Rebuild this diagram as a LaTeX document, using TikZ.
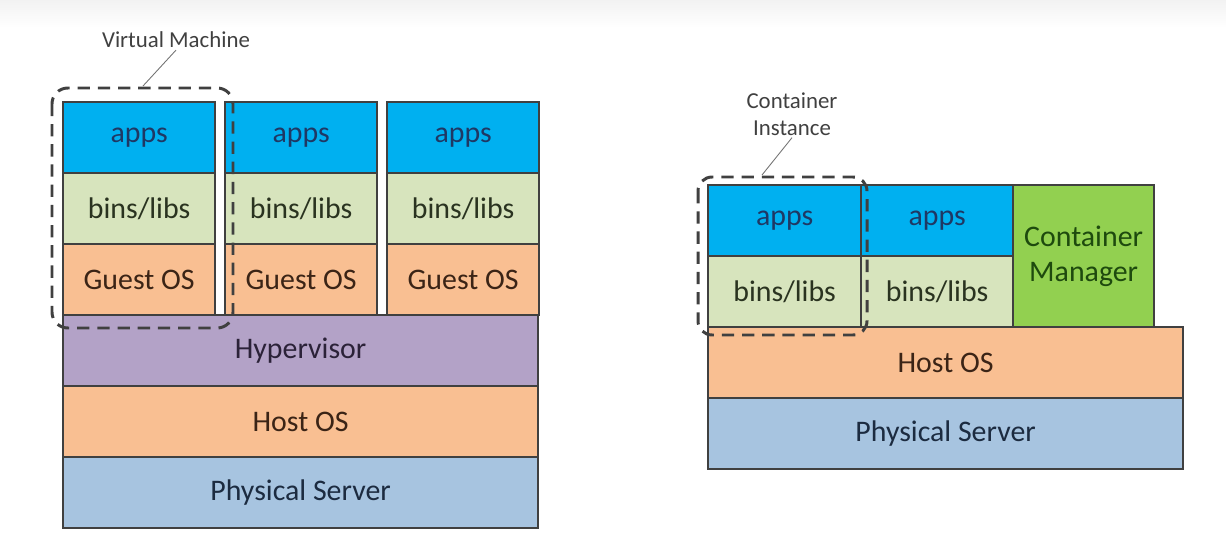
\documentclass[tikz,border=0pt]{standalone}
\usepackage{fontspec}
\setmainfont{Carlito}
\definecolor{edge}{HTML}{404040}
\definecolor{appsfill}{HTML}{00B0F0}
\definecolor{appstext}{HTML}{1F3864}
\definecolor{binsfill}{HTML}{D7E4BD}
\definecolor{binstext}{HTML}{2A3320}
\definecolor{osfill}{HTML}{F9BF92}
\definecolor{ostext}{HTML}{3B2416}
\definecolor{hyperfill}{HTML}{B3A2C7}
\definecolor{hypertext}{HTML}{2B2238}
\definecolor{serverfill}{HTML}{A7C4E0}
\definecolor{servertext}{HTML}{1C2B40}
\definecolor{mgrfill}{HTML}{92D050}
\definecolor{mgrtext}{HTML}{1E4A0E}
\begin{document}
\begin{tikzpicture}[x=0.02cm, y=-0.02cm, font=\fontsize{17}{20}\selectfont,
    layer/.style={draw=edge, line width=1.3pt, anchor=north west, inner sep=0pt, minimum height=1.42cm},
    apps/.style={layer, fill=appsfill, text=appstext},
    bins/.style={layer, fill=binsfill, text=binstext},
    os/.style={layer, fill=osfill, text=ostext},
    boxdash/.style={draw=edge, line width=1.7pt, dash pattern=on 7pt off 4.5pt},
    tag/.style={font=\fontsize{13}{15.5}\selectfont, text=black!75, align=center, inner sep=1pt},
    leader/.style={draw=black!55, line width=0.5pt}]
      \useasboundingbox (0,0) rectangle (1226,557);
      \shade[top color=black!5, bottom color=white] (0,0) rectangle (1226,28);

      % virtual machines
      \foreach \i/\x in {1/62,2/224,3/386} {
        \node[apps, minimum width=3.04cm] (vmapp\i) at (\x,101) {apps};
        \node[bins, minimum width=3.04cm] (vmbins\i) at (\x,172) {bins/libs};
        \node[os, minimum width=3.04cm] (vmos\i) at (\x,243) {Guest OS};
      }
      \node[layer, fill=hyperfill, text=hypertext, minimum width=9.5cm] (hyper) at (62,314) {Hypervisor};
      \node[os, minimum width=9.5cm] (vmhost) at (62,385) {Host OS};
      \node[layer, fill=serverfill, text=servertext, minimum width=9.5cm] (vmserver) at (62,456) {Physical Server};

      % containers
      \node[apps, minimum width=3.06cm] (ctapp1) at (707,184) {apps};
      \node[bins, minimum width=3.06cm] (ctbins1) at (707,255) {bins/libs};
      \node[apps, minimum width=3.04cm] (ctapp2) at (860,184) {apps};
      \node[bins, minimum width=3.04cm] (ctbins2) at (860,255) {bins/libs};
      \node[layer, fill=mgrfill, text=mgrtext, align=center, minimum width=2.82cm, minimum height=2.84cm,
            font=\fontsize{17}{20}\selectfont] (ctmgr) at (1012,184) {Container\\Manager};
      \node[os, minimum width=9.5cm] (cthost) at (707,326) {Host OS};
      \node[layer, fill=serverfill, text=servertext, minimum width=9.5cm] (ctserver) at (707,397) {Physical Server};

      % outlines and labels
      \draw[boxdash, rounded corners=9pt] (52,88) rectangle (233,328);
      \draw[boxdash, rounded corners=8pt] (698,177) rectangle (867,335);

      \node[tag] (vmlabel) at (176,40) {Virtual Machine};
      \coordinate (vmtip) at (143,86);
      \draw[leader] (vmtip) -- (vmlabel.south);

      \node[tag] (ctlabel) at (792,114) {Container\\Instance};
      \coordinate (cttip) at (762,175);
      \draw[leader] (cttip) -- (ctlabel.south);
\end{tikzpicture}
\end{document}
